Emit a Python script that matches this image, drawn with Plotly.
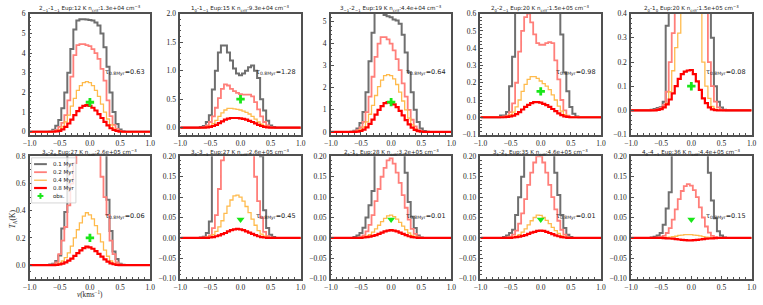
import plotly.graph_objects as go

# ---------------- data ----------------
V = [-1.0, -0.95, -0.9, -0.85, -0.8, -0.75, -0.7, -0.65, -0.6, -0.55, -0.5, -0.45, -0.4, -0.35,
     -0.3, -0.25, -0.2, -0.15, -0.1, -0.05, 0.0, 0.05, 0.1, 0.15, 0.2, 0.25, 0.3, 0.35, 0.4,
     0.45, 0.5, 0.55, 0.6, 0.65, 0.7, 0.75, 0.8, 0.85, 0.9, 0.95, 1.0]

# panel 1  (2_-1 - 1_-1)
G1 = [0, 0, 0, 0, 0, 0, 0, 0.02, 0.1, 0.3, 0.6, 1.2, 2.0, 3.0, 4.2, 5.2, 5.65, 5.72, 5.72, 5.7, 5.68, 5.65, 5.55, 5.4, 5.0, 4.3, 3.3, 2.0, 1.0, 0.4, 0.12, 0.03, 0, 0, 0, 0, 0, 0, 0, 0, 0]
S1 = [0, 0, 0, 0, 0, 0, 0, 0, 0.03, 0.1, 0.25, 0.45, 0.85, 1.6, 2.8, 3.9, 4.4, 4.45, 4.45, 4.4, 4.35, 4.2, 4.0, 3.7, 3.2, 2.6, 1.6, 0.8, 0.35, 0.15, 0.05, 0.01, 0, 0, 0, 0, 0, 0, 0, 0, 0]
O1 = [0, 0, 0, 0, 0, 0, 0, 0, 0.01, 0.03, 0.1, 0.25, 0.5, 0.85, 1.3, 1.7, 2.1, 2.35, 2.5, 2.55, 2.5, 2.35, 2.1, 1.8, 1.4, 1.0, 0.65, 0.35, 0.15, 0.05, 0.02, 0, 0, 0, 0, 0, 0, 0, 0, 0, 0]
R1 = [0, 0, 0, 0, 0, 0, 0, 0, 0, 0.02, 0.05, 0.12, 0.25, 0.42, 0.62, 0.85, 1.05, 1.22, 1.32, 1.35, 1.32, 1.22, 1.08, 0.9, 0.7, 0.5, 0.32, 0.18, 0.09, 0.04, 0.01, 0, 0, 0, 0, 0, 0, 0, 0, 0, 0]
# panel 2  (1_0 - 1_-1)
G2 = [0, 0, 0, 0, 0, 0, 0, 0.01, 0.03, 0.1, 0.22, 0.67, 1.0, 1.32, 1.44, 1.44, 1.32, 1.18, 1.04, 0.95, 0.92, 0.95, 1.0, 1.06, 1.09, 1.0, 0.87, 0.5, 0.3, 0.12, 0.04, 0.01, 0, 0, 0, 0, 0, 0, 0, 0, 0]
S2 = [0, 0, 0, 0, 0, 0, 0, 0, 0.01, 0.04, 0.1, 0.2, 0.35, 0.52, 0.68, 0.76, 0.74, 0.68, 0.64, 0.61, 0.59, 0.58, 0.58, 0.58, 0.55, 0.45, 0.32, 0.2, 0.1, 0.04, 0.01, 0, 0, 0, 0, 0, 0, 0, 0, 0, 0]
O2 = [0, 0, 0, 0, 0, 0, 0, 0, 0, 0.01, 0.03, 0.07, 0.13, 0.2, 0.26, 0.31, 0.34, 0.34, 0.33, 0.32, 0.31, 0.29, 0.27, 0.24, 0.2, 0.15, 0.1, 0.06, 0.03, 0.01, 0, 0, 0, 0, 0, 0, 0, 0, 0, 0, 0]
R2 = [0, 0, 0, 0, 0, 0, 0, 0, 0, 0.005, 0.015, 0.03, 0.05, 0.08, 0.11, 0.14, 0.16, 0.17, 0.17, 0.17, 0.165, 0.155, 0.14, 0.12, 0.1, 0.075, 0.05, 0.03, 0.015, 0.005, 0, 0, 0, 0, 0, 0, 0, 0, 0, 0, 0]
# panel 3  (3_-1 - 2_-1)
G3 = [0, 0, 0, 0, 0, 0, 0, 0.01, 0.05, 0.15, 0.4, 0.9, 1.8, 3.2, 4.5, 5.4, 5.6, 5.45, 5.3, 5.25, 5.2, 5.1, 5.05, 4.9, 4.4, 3.6, 2.7, 1.8, 1.0, 0.45, 0.15, 0.04, 0.01, 0, 0, 0, 0, 0, 0, 0, 0]
S3 = [0, 0, 0, 0, 0, 0, 0, 0, 0.02, 0.08, 0.2, 0.45, 0.9, 1.6, 2.5, 3.4, 4.0, 4.3, 4.3, 4.2, 4.0, 3.7, 3.3, 2.8, 2.2, 1.6, 1.0, 0.55, 0.25, 0.1, 0.03, 0, 0, 0, 0, 0, 0, 0, 0, 0, 0]
O3 = [0, 0, 0, 0, 0, 0, 0, 0, 0, 0.03, 0.1, 0.22, 0.45, 0.8, 1.2, 1.65, 2.05, 2.35, 2.55, 2.6, 2.55, 2.4, 2.15, 1.8, 1.4, 1.0, 0.62, 0.32, 0.14, 0.05, 0.01, 0, 0, 0, 0, 0, 0, 0, 0, 0, 0]
R3 = [0, 0, 0, 0, 0, 0, 0, 0, 0, 0.01, 0.04, 0.1, 0.2, 0.36, 0.56, 0.78, 1.0, 1.17, 1.3, 1.35, 1.33, 1.25, 1.12, 0.95, 0.75, 0.53, 0.34, 0.19, 0.09, 0.03, 0.01, 0, 0, 0, 0, 0, 0, 0, 0, 0, 0]
# panel 4  (2_0 - 2_-1)
G4 = [0, 0, 0, 0, 0, 0, 0, 0.01, 0.01, 0.03, 0.18, 0.35, 0.8, 1.3, 1.7, 1.9, 1.9, 1.7, 1.5, 1.4, 1.4, 1.45, 1.5, 1.4, 1.1, 0.8, 0.65, 0.48, 0.26, 0.15, 0.06, 0.02, 0.005, 0, 0, 0, 0, 0, 0, 0, 0]
S4 = [0, 0, 0, 0, 0, 0, 0, 0, 0.005, 0.01, 0.03, 0.08, 0.2, 0.38, 0.5, 0.58, 0.6, 0.55, 0.48, 0.43, 0.42, 0.42, 0.43, 0.435, 0.43, 0.33, 0.22, 0.1, 0.04, 0.01, 0, 0, 0, 0, 0, 0, 0, 0, 0, 0, 0]
O4 = [0, 0, 0, 0, 0, 0, 0, 0, 0, 0.005, 0.015, 0.03, 0.06, 0.1, 0.15, 0.19, 0.22, 0.235, 0.235, 0.225, 0.21, 0.195, 0.18, 0.16, 0.13, 0.1, 0.065, 0.035, 0.015, 0.005, 0, 0, 0, 0, 0, 0, 0, 0, 0, 0, 0]
R4 = [0, 0, 0, 0, 0, 0, 0, 0, 0, 0.002, 0.005, 0.01, 0.018, 0.03, 0.045, 0.06, 0.072, 0.082, 0.088, 0.088, 0.085, 0.078, 0.07, 0.06, 0.048, 0.035, 0.022, 0.012, 0.005, 0.002, 0, 0, 0, 0, 0, 0, 0, 0, 0, 0, 0]
# panel 5  (2_0 - 1_0)
G5 = [0, 0, 0, 0, 0, 0, 0, 0.003, 0.006, 0.01, 0.013, 0.036, 0.35, 0.7, 1.0, 1.2, 1.3, 1.3, 1.3, 1.25, 1.25, 1.2, 1.15, 1.05, 0.9, 0.7, 0.5, 0.3, 0.1, 0.036, 0.012, 0.003, 0, 0, 0, 0, 0, 0, 0, 0, 0]
S5 = [0, 0, 0, 0, 0, 0, 0, 0, 0.002, 0.005, 0.01, 0.023, 0.077, 0.2, 0.32, 0.5, 0.65, 0.75, 0.8, 0.8, 0.78, 0.72, 0.65, 0.58, 0.5, 0.45, 0.2, 0.1, 0.036, 0.012, 0.003, 0, 0, 0, 0, 0, 0, 0, 0, 0, 0]
O5 = [0, 0, 0, 0, 0, 0, 0, 0, 0, 0.002, 0.005, 0.012, 0.03, 0.077, 0.164, 0.26, 0.32, 0.45, 0.52, 0.56, 0.55, 0.5, 0.45, 0.41, 0.2, 0.1, 0.05, 0.016, 0.005, 0, 0, 0, 0, 0, 0, 0, 0, 0, 0, 0, 0]
R5 = [0, 0, 0, 0, 0, 0, 0, 0, 0, 0.002, 0.005, 0.012, 0.025, 0.045, 0.07, 0.1, 0.13, 0.15, 0.16, 0.165, 0.167, 0.15, 0.12, 0.085, 0.05, 0.03, 0.012, 0.004, 0.001, 0, 0, 0, 0, 0, 0, 0, 0, 0, 0, 0, 0]
# panel 6  (3_0 - 2_0)
G6 = [0, 0, 0, 0, 0, 0, 0, 0.005, 0.01, 0.03, 0.07, 0.27, 0.39, 0.9, 1.3, 1.6, 1.75, 1.8, 1.8, 1.75, 1.7, 1.6, 1.5, 1.35, 1.2, 1.0, 0.48, 0.25, 0.1, 0.045, 0.01, 0.003, 0, 0, 0, 0, 0, 0, 0, 0, 0]
S6 = [0, 0, 0, 0, 0, 0, 0, 0, 0.005, 0.02, 0.08, 0.18, 0.28, 0.44, 0.6, 0.75, 0.9, 1.0, 1.05, 1.05, 1.0, 0.95, 0.9, 0.82, 0.65, 0.5, 0.37, 0.18, 0.08, 0.02, 0.005, 0, 0, 0, 0, 0, 0, 0, 0, 0, 0]
O6 = [0, 0, 0, 0, 0, 0, 0, 0, 0, 0.005, 0.015, 0.03, 0.055, 0.09, 0.14, 0.2, 0.26, 0.31, 0.36, 0.385, 0.37, 0.34, 0.29, 0.23, 0.17, 0.11, 0.065, 0.03, 0.012, 0.004, 0, 0, 0, 0, 0, 0, 0, 0, 0, 0, 0]
R6 = [0, 0, 0, 0, 0, 0, 0, 0, 0, 0.002, 0.005, 0.01, 0.02, 0.032, 0.048, 0.068, 0.088, 0.108, 0.125, 0.135, 0.13, 0.12, 0.103, 0.083, 0.062, 0.042, 0.025, 0.013, 0.006, 0.002, 0, 0, 0, 0, 0, 0, 0, 0, 0, 0, 0]
# panel 7  (3_0 - 3_-1)
G7 = [0, 0, 0, 0, 0, 0, 0, 0.001, 0.003, 0.012, 0.04, 0.3, 0.5, 0.7, 0.8, 0.85, 0.9, 0.9, 0.9, 0.85, 0.8, 0.75, 0.7, 0.6, 0.5, 0.4, 0.3, 0.2, 0.068, 0.024, 0.008, 0.002, 0, 0, 0, 0, 0, 0, 0, 0, 0]
S7 = [0, 0, 0, 0, 0, 0, 0, 0, 0.001, 0.002, 0.006, 0.024, 0.056, 0.12, 0.19, 0.25, 0.3, 0.33, 0.35, 0.35, 0.34, 0.32, 0.29, 0.25, 0.21, 0.15, 0.09, 0.05, 0.015, 0.004, 0.001, 0, 0, 0, 0, 0, 0, 0, 0, 0, 0]
O7 = [0, 0, 0, 0, 0, 0, 0, 0, 0, 0.001, 0.003, 0.008, 0.016, 0.027, 0.042, 0.06, 0.078, 0.093, 0.103, 0.105, 0.1, 0.09, 0.077, 0.062, 0.046, 0.031, 0.018, 0.009, 0.004, 0.001, 0, 0, 0, 0, 0, 0, 0, 0, 0, 0, 0]
R7 = [0, 0, 0, 0, 0, 0, 0, 0, 0, 0, 0.001, 0.002, 0.004, 0.006, 0.009, 0.012, 0.016, 0.019, 0.021, 0.022, 0.021, 0.019, 0.016, 0.013, 0.01, 0.007, 0.004, 0.002, 0.001, 0, 0, 0, 0, 0, 0, 0, 0, 0, 0, 0, 0]
# panel 8  (2_1 - 1_1)
G8 = [0, 0, 0, 0, 0, 0, 0, 0, 0.002, 0.006, 0.012, 0.025, 0.05, 0.08, 0.115, 0.25, 0.4, 0.5, 0.55, 0.58, 0.58, 0.55, 0.5, 0.45, 0.35, 0.16, 0.088, 0.052, 0.024, 0.006, 0.001, 0, 0, 0, 0, 0, 0, 0, 0, 0, 0]
S8 = [0, 0, 0, 0, 0, 0, 0, 0, 0, 0, 0.002, 0.006, 0.016, 0.032, 0.056, 0.09, 0.12, 0.15, 0.172, 0.19, 0.195, 0.182, 0.16, 0.135, 0.105, 0.074, 0.045, 0.022, 0.01, 0.003, 0, 0, 0, 0, 0, 0, 0, 0, 0, 0, 0]
O8 = [0, 0, 0, 0, 0, 0, 0, 0, 0, 0, 0.001, 0.002, 0.004, 0.008, 0.014, 0.022, 0.031, 0.04, 0.048, 0.054, 0.056, 0.052, 0.046, 0.038, 0.029, 0.02, 0.012, 0.006, 0.003, 0.001, 0, 0, 0, 0, 0, 0, 0, 0, 0, 0, 0]
R8 = [0, 0, 0, 0, 0, 0, 0, 0, 0, 0, 0, 0.001, 0.002, 0.003, 0.005, 0.007, 0.01, 0.013, 0.016, 0.018, 0.019, 0.018, 0.016, 0.013, 0.01, 0.007, 0.004, 0.002, 0.001, 0, 0, 0, 0, 0, 0, 0, 0, 0, 0, 0, 0]
# panel 9  (3_1 - 2_1)
G9 = [0, 0, 0, 0, 0, 0, 0, 0, 0.002, 0.006, 0.012, 0.02, 0.056, 0.1, 0.15, 0.3, 0.45, 0.55, 0.6, 0.62, 0.6, 0.56, 0.5, 0.42, 0.3, 0.16, 0.105, 0.056, 0.024, 0.008, 0.002, 0, 0, 0, 0, 0, 0, 0, 0, 0, 0]
S9 = [0, 0, 0, 0, 0, 0, 0, 0, 0, 0.001, 0.003, 0.008, 0.018, 0.035, 0.06, 0.095, 0.13, 0.16, 0.185, 0.2, 0.2, 0.185, 0.16, 0.13, 0.1, 0.07, 0.042, 0.02, 0.008, 0.002, 0, 0, 0, 0, 0, 0, 0, 0, 0, 0, 0]
O9 = [0, 0, 0, 0, 0, 0, 0, 0, 0, 0, 0.001, 0.002, 0.004, 0.008, 0.014, 0.022, 0.032, 0.042, 0.05, 0.056, 0.055, 0.05, 0.043, 0.035, 0.026, 0.018, 0.011, 0.005, 0.002, 0.001, 0, 0, 0, 0, 0, 0, 0, 0, 0, 0, 0]
R9 = [0, 0, 0, 0, 0, 0, 0, 0, 0, 0, 0, 0.001, 0.002, 0.003, 0.005, 0.007, 0.01, 0.013, 0.015, 0.017, 0.018, 0.017, 0.015, 0.012, 0.009, 0.006, 0.004, 0.002, 0.001, 0, 0, 0, 0, 0, 0, 0, 0, 0, 0, 0, 0]
# panel 10 (4_0 - 4_-1)
G10 = [0, 0, 0, 0, 0, 0, 0, 0.001, 0.003, 0.006, 0.012, 0.032, 0.072, 0.112, 0.3, 0.45, 0.55, 0.6, 0.62, 0.62, 0.6, 0.55, 0.5, 0.45, 0.38, 0.3, 0.16, 0.092, 0.048, 0.016, 0.006, 0.001, 0, 0, 0, 0, 0, 0, 0, 0, 0]
S10 = [0, 0, 0, 0, 0, 0, 0, 0, 0, 0.001, 0.002, 0.005, 0.012, 0.024, 0.045, 0.07, 0.095, 0.115, 0.127, 0.132, 0.128, 0.117, 0.1, 0.075, 0.05, 0.028, 0.013, 0.005, 0.002, 0, 0, 0, 0, 0, 0, 0, 0, 0, 0, 0, 0]
O10 = [0, 0, 0, 0, 0, 0, 0, 0, 0, 0, 0, 0.0005, 0.001, 0.002, 0.003, 0.004, 0.006, 0.007, 0.008, 0.008, 0.008, 0.007, 0.006, 0.005, 0.003, 0.002, 0.001, 0.0005, 0, 0, 0, 0, 0, 0, 0, 0, 0, 0, 0, 0, 0]
R10 = [0, 0, 0, 0, 0, 0, 0, 0, 0, 0, 0, -0.0005, -0.001, -0.0015, -0.002, -0.003, -0.004, -0.005, -0.0055, -0.006, -0.006, -0.0055, -0.005, -0.004, -0.003, -0.002, -0.0015, -0.001, -0.0005, 0, 0, 0, 0, 0, 0, 0, 0, 0, 0, 0, 0]

AGES = ["0.1 Myr", "0.2 Myr", "0.4 Myr", "0.8 Myr"]
TITLES = [
    "2<sub>−1</sub>-1<sub>−1</sub> Eup:12 K n<sub>crit</sub>:1.3e+04 cm<sup>−3</sup>",
    "1<sub>0</sub>-1<sub>−1</sub> Eup:15 K n<sub>crit</sub>:9.3e+04 cm<sup>−3</sup>",
    "3<sub>−1</sub>-2<sub>−1</sub> Eup:19 K n<sub>crit</sub>:4.4e+04 cm<sup>−3</sup>",
    "2<sub>0</sub>-2<sub>−1</sub> Eup:20 K n<sub>crit</sub>:1.5e+05 cm<sup>−3</sup>",
    "2<sub>0</sub>-1<sub>0</sub> Eup:20 K n<sub>crit</sub>:1.5e+05 cm<sup>−3</sup>",
    "3<sub>0</sub>-2<sub>0</sub> Eup:27 K n<sub>crit</sub>:2.6e+05 cm<sup>−3</sup>",
    "3<sub>0</sub>-3<sub>−1</sub> Eup:27 K n<sub>crit</sub>:2.6e+05 cm<sup>−3</sup>",
    "2<sub>1</sub>-1<sub>1</sub> Eup:28 K n<sub>crit</sub>:3.2e+05 cm<sup>−3</sup>",
    "3<sub>1</sub>-2<sub>1</sub> Eup:35 K n<sub>crit</sub>:4.6e+05 cm<sup>−3</sup>",
    "4<sub>0</sub>-4<sub>−1</sub> Eup:36 K n<sub>crit</sub>:4.4e+05 cm<sup>−3</sup>",
]
TAU = ["0.63", "1.28", "0.64", "0.98", "0.08", "0.06", "0.45", "0.01", "0.01", "0.15"]
OBS = [1.5, 0.5, 1.35, 0.15, 0.10, 0.2, 0.045, 0.045, 0.045, 0.045]
OBS_UPPER_LIMIT = [False, False, False, False, False, False, True, True, True, True]
XTICKS = [-1.0, -0.5, 0.0, 0.5, 1.0]

SERIES = [
    [G1, S1, O1, R1], [G2, S2, O2, R2], [G3, S3, O3, R3], [G4, S4, O4, R4], [G5, S5, O5, R5],
    [G6, S6, O6, R6], [G7, S7, O7, R7], [G8, S8, O8, R8], [G9, S9, O9, R9], [G10, S10, O10, R10],
]
for grp in SERIES:
    for s in grp:
        assert len(s) == len(V), len(s)

# ---------------- style / layout ----------------
W, H = 763, 305
COLORS = ["#6f6f6f", "#ff7f7a", "#ffbb4d", "#ff0000"]
WIDTHS = [2.0, 1.8, 1.3, 2.2]
GREEN = "#19e619"
FRAME = "#505050"
SERIF = "Liberation Serif"
SANS = "DejaVu Sans"

LEFTS = [23, 176, 329, 481, 634]
PW = 122.5
ROWS = [(10, 134.5), (157, 283)]
TITLE_Y = [4.5, 152.5]
TAU_Y = [70, 218]
YRANGES = [(-0.14, 6.0), (-0.12, 2.0), (-0.12, 5.36), (-0.1, 0.6), (-0.1, 0.4),
           (-0.1, 0.8), (-0.1, 0.2), (-0.1, 0.2), (-0.1, 0.2), (-0.1, 0.2)]
YDTICK = [1, 0.5, 1, 0.1, 0.1, 0.2, 0.05, 0.05, 0.05, 0.05]
YMINOR = [0.2, 0.1, 0.2, 0.02, 0.02, 0.05, 0.01, 0.01, 0.01, 0.01]
YFMT = ["d", ".1f", "d", ".1f", ".1f", ".1f", ".2f", ".2f", ".2f", ".2f"]


def px(x):
    return x / W


def py(y):
    return 1 - y / H


fig = go.Figure()
annotations = []
shapes = []
layout = {}

for k in range(10):
    r, c = divmod(k, 5)
    ax = "" if k == 0 else str(k + 1)
    x0, x1 = LEFTS[c], LEFTS[c] + PW
    top, bot = ROWS[r]
    for ser, col, wd in zip(SERIES[k], COLORS, WIDTHS):
        fig.add_trace(go.Scatter(x=V, y=ser, mode="lines", xaxis="x" + ax, yaxis="y" + ax,
                                 line=dict(color=col, width=wd, shape="hvh"),
                                 showlegend=False, hoverinfo="skip"))
    fig.add_trace(go.Scatter(x=[0.0], y=[OBS[k]], mode="markers", xaxis="x" + ax, yaxis="y" + ax,
                             marker=dict(symbol="triangle-down" if OBS_UPPER_LIMIT[k] else "cross",
                                         size=7, color=GREEN, line=dict(width=0)),
                             showlegend=False, hoverinfo="skip"))
    lo, hi = YRANGES[k]
    eps = (hi - lo) * 1e-5
    common = dict(showline=True, mirror=True, linecolor=FRAME, linewidth=1.5,
                  ticks="inside", ticklen=3, tickwidth=1, tickcolor=FRAME,
                  tickfont=dict(family=SERIF, size=7.5, color="#222"),
                  ticklabelstandoff=1, showgrid=False, zeroline=False)
    layout["xaxis" + ax] = dict(
        domain=[px(x0), px(x1)], range=[-1, 1], anchor="y" + ax,
        tickvals=XTICKS, tickformat=".1f",
        minor=dict(dtick=0.1, tick0=0, ticks="inside", ticklen=1.5, tickcolor=FRAME, tickwidth=0.8),
        **common,
    )
    layout["yaxis" + ax] = dict(
        domain=[py(bot), py(top)], range=[lo - eps, hi + eps], anchor="x" + ax,
        tick0=0, dtick=YDTICK[k], tickformat=YFMT[k],
        minor=dict(dtick=YMINOR[k], tick0=0, ticks="inside", ticklen=1.5, tickcolor=FRAME, tickwidth=0.8),
        **common,
    )
    # panel title
    annotations.append(dict(xref="paper", yref="paper", x=px(x0 + PW / 2), y=py(TITLE_Y[r]),
                            text=TITLES[k], showarrow=False, xanchor="center", yanchor="middle",
                            font=dict(family=SANS, size=5.6, color="#222")))
    # optical depth label
    annotations.append(dict(xref="paper", yref="paper", x=px(x1 - 3.3), y=py(TAU_Y[r]),
                            text="τ<sub>0.8Myr</sub>=" + TAU[k], showarrow=False,
                            xanchor="right", yanchor="middle",
                            font=dict(family=SANS, size=6.5, color="#222")))

# axis labels
annotations.append(dict(xref="paper", yref="paper", x=px(84), y=py(299),
                        text="<i>v</i>(kms<sup>−1</sup>)", showarrow=False,
                        xanchor="center", yanchor="middle",
                        font=dict(family=SERIF, size=7.2, color="#222")))
annotations.append(dict(xref="paper", yref="paper", x=px(7), y=py(221),
                        text="<i>T</i><sub>A</sub>(K)", showarrow=False, textangle=-90,
                        xanchor="center", yanchor="middle",
                        font=dict(family=SERIF, size=7.5, color="#222")))

# legend (drawn manually, inside panel 6)
shapes.append(dict(type="rect", xref="paper", yref="paper", layer="above",
                   x0=px(25), x1=px(70), y0=py(205), y1=py(158.5),
                   line=dict(color="#cccccc", width=0.8), fillcolor="rgba(255,255,255,0.8)"))
LEG_Y = [165, 173.3, 181.6, 189.6]
for lab, col, wd, yy in zip(AGES, COLORS, WIDTHS, LEG_Y):
    shapes.append(dict(type="line", xref="paper", yref="paper", layer="above",
                       x0=px(27.5), x1=px(40.5), y0=py(yy), y1=py(yy),
                       line=dict(color=col, width=wd)))
    annotations.append(dict(xref="paper", yref="paper", x=px(44.5), y=py(yy), text=lab,
                            showarrow=False, xanchor="left", yanchor="middle",
                            font=dict(family=SANS, size=5.5, color="#222")))
OY = 197.8
shapes.append(dict(type="line", xref="paper", yref="paper", layer="above",
                   x0=px(31), x1=px(37), y0=py(OY), y1=py(OY), line=dict(color=GREEN, width=2)))
shapes.append(dict(type="line", xref="paper", yref="paper", layer="above",
                   x0=px(34), x1=px(34), y0=py(OY - 3), y1=py(OY + 3), line=dict(color=GREEN, width=2)))
annotations.append(dict(xref="paper", yref="paper", x=px(44.5), y=py(OY), text="obs.",
                        showarrow=False, xanchor="left", yanchor="middle",
                        font=dict(family=SANS, size=5.5, color="#222")))

fig.update_layout(
    width=W, height=H, margin=dict(l=0, r=0, t=0, b=0),
    paper_bgcolor="white", plot_bgcolor="white",
    annotations=annotations, shapes=shapes, **layout,
)
fig.write_html("out.html", config={"displayModeBar": False},
               post_script="document.body.style.margin='0';document.body.style.overflow='hidden';")
